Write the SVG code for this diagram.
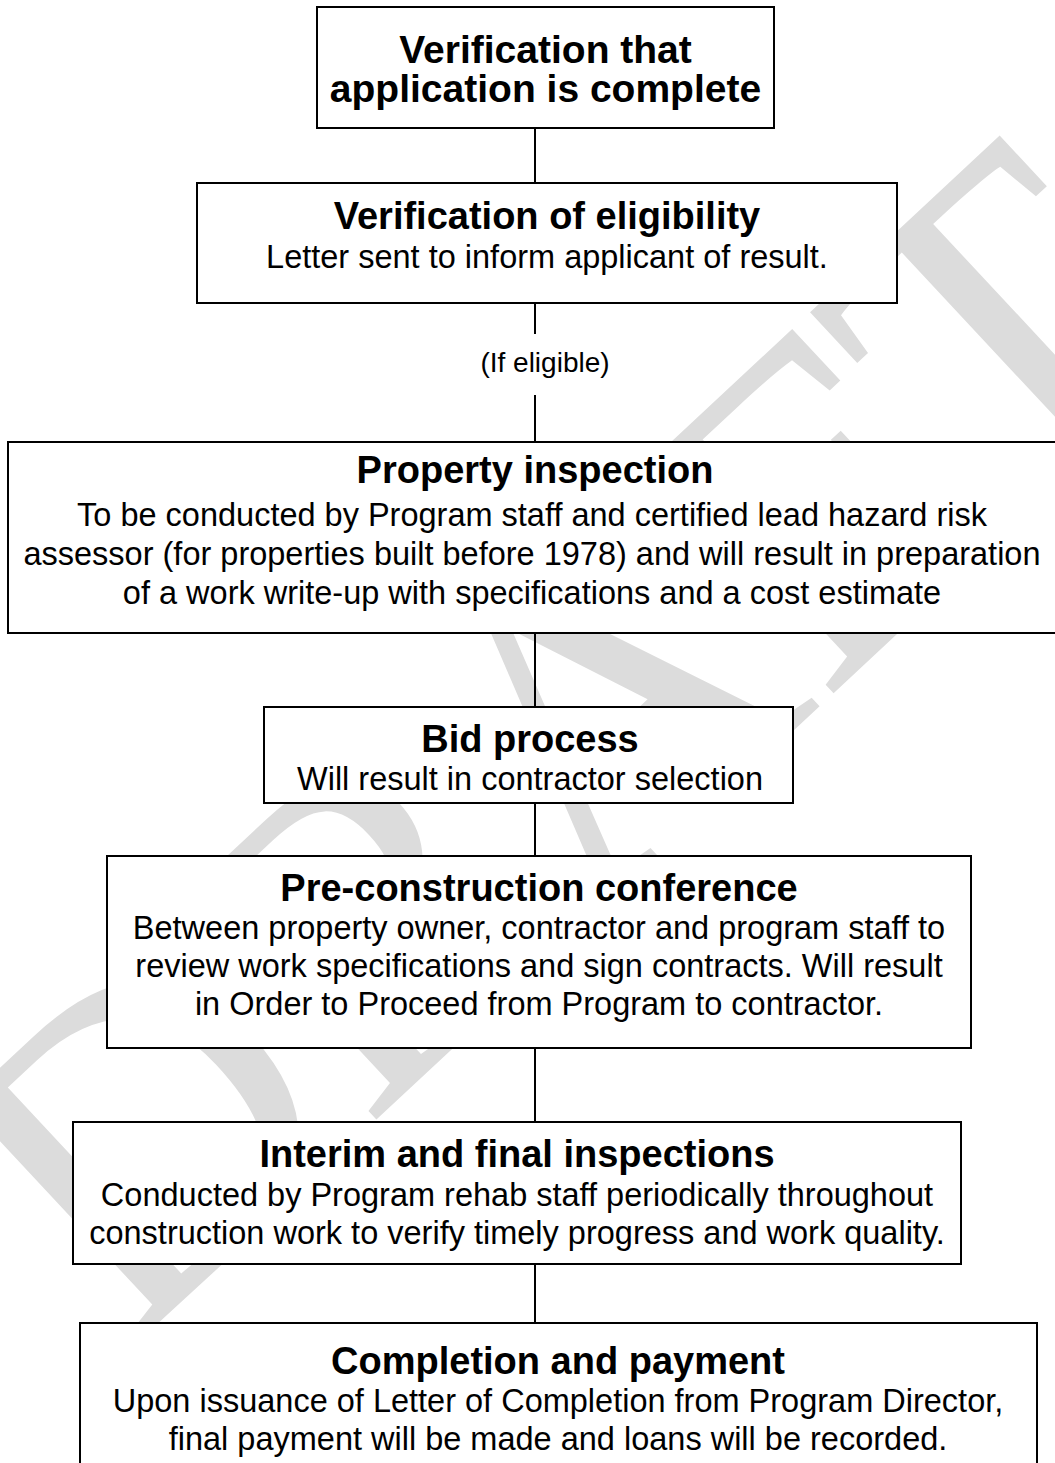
<svg xmlns="http://www.w3.org/2000/svg" width="1055" height="1463" viewBox="0 0 1055 1463">
  <style>
    .box { fill: #ffffff; stroke: #000000; stroke-width: 2; }
    .conn { stroke: #000000; stroke-width: 2; fill: none; }
    .title { font-family: "Liberation Sans", Arial, sans-serif; font-weight: bold; font-size: 38px; fill: #000; text-anchor: middle; }
    .body { font-family: "Liberation Sans", Arial, sans-serif; font-size: 32.5px; fill: #000; text-anchor: middle; }
    .label { font-family: "Liberation Sans", Arial, sans-serif; font-size: 28px; fill: #000; text-anchor: middle; }
    .wm { font-family: "Liberation Serif", "Times New Roman", serif; font-size: 450px; fill: #dcdcdc; text-anchor: middle; }
  </style>
  <rect x="0" y="0" width="1055" height="1463" fill="#ffffff"/>
  <g id="watermark">
    <text class="wm" x="565" y="889" transform="rotate(-43 565 740)">DRAFT</text>
  </g>
  <g id="connectors">
    <line class="conn" x1="535" y1="128" x2="535" y2="182"/>
    <line class="conn" x1="535" y1="303" x2="535" y2="334"/>
    <line class="conn" x1="535" y1="395" x2="535" y2="442"/>
    <line class="conn" x1="535" y1="633" x2="535" y2="707"/>
    <line class="conn" x1="535" y1="803" x2="535" y2="856"/>
    <line class="conn" x1="535" y1="1048" x2="535" y2="1122"/>
    <line class="conn" x1="535" y1="1264" x2="535" y2="1323"/>
    <text class="label" x="545" y="372">(If eligible)</text>
  </g>
  <g id="node-application-complete">
    <rect class="box" x="317" y="7" width="457" height="121"/>
    <text class="title" x="545.5" y="63" style="font-size:39px">Verification that</text>
    <text class="title" x="545.5" y="102" style="font-size:39px">application is complete</text>
  </g>
  <g id="node-eligibility">
    <rect class="box" x="197" y="183" width="700" height="120"/>
    <text class="title" x="547" y="229">Verification of eligibility</text>
    <text class="body" x="547" y="268">Letter sent to inform applicant of result.</text>
  </g>
  <g id="node-property-inspection">
    <rect class="box" x="8" y="442" width="1062" height="191"/>
    <text class="title" x="535" y="483">Property inspection</text>
    <text class="body" x="532" y="526">To be conducted by Program staff and certified lead hazard risk</text>
    <text class="body" x="532" y="565">assessor (for properties built before 1978) and will result in preparation</text>
    <text class="body" x="532" y="604">of a work write-up with specifications and a cost estimate</text>
  </g>
  <g id="node-bid-process">
    <rect class="box" x="264" y="707" width="529" height="96"/>
    <text class="title" x="530" y="752">Bid process</text>
    <text class="body" x="530" y="790">Will result in contractor selection</text>
  </g>
  <g id="node-pre-construction">
    <rect class="box" x="107" y="856" width="864" height="192"/>
    <text class="title" x="539" y="901">Pre-construction conference</text>
    <text class="body" x="539" y="939">Between property owner, contractor and program staff to</text>
    <text class="body" x="539" y="977">review work specifications and sign contracts. Will result</text>
    <text class="body" x="539" y="1015">in Order to Proceed from Program to contractor.</text>
  </g>
  <g id="node-inspections">
    <rect class="box" x="73" y="1122" width="888" height="142"/>
    <text class="title" x="517" y="1167">Interim and final inspections</text>
    <text class="body" x="517" y="1206">Conducted by Program rehab staff periodically throughout</text>
    <text class="body" x="517" y="1244">construction work to verify timely progress and work quality.</text>
  </g>
  <g id="node-completion">
    <rect class="box" x="80" y="1323" width="957" height="160"/>
    <text class="title" x="558" y="1374">Completion and payment</text>
    <text class="body" x="558" y="1412">Upon issuance of Letter of Completion from Program Director,</text>
    <text class="body" x="558" y="1450">final payment will be made and loans will be recorded.</text>
  </g>
</svg>
